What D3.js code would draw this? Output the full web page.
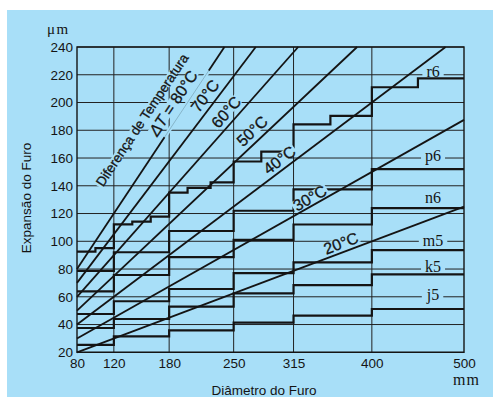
<!DOCTYPE html>
<html><head><meta charset="utf-8">
<script src="https://cdn.jsdelivr.net/npm/d3@7"></script>
<style>
body{margin:0;background:#fff;}
svg{display:block;}
</style></head><body>
<svg id="chart" width="493" height="397"></svg>
<script>
// ---------- data ----------
const diameterTicks = [80, 120, 180, 250, 315, 400, 500];
const expansionTicks = [20, 40, 60, 80, 100, 120, 140, 160, 180, 200, 220, 240];
const rangeEdges = [80, 120, 180, 250, 315, 400, 500];
const j5 = [25.3, 31.5, 35.8, 41.4, 46.4, 51.2];
const k5 = [37.5, 44.0, 52.9, 62.5, 68.4, 76.2];
const m5 = [47.6, 56.8, 65.6, 77.0, 84.8, 93.6];
const n6 = [63.9, 75.7, 88.6, 101.0, 112.1, 123.9];
const p6 = [78.7, 92.1, 107.4, 122.0, 137.4, 152.0];
const r6Edges = [80, 100, 120, 140, 160, 180, 200, 225, 250, 280, 315, 355, 400, 450, 500];
const r6 = [92.5, 95.0, 112.2, 114.1, 117.7, 135.0, 138.5, 142.5, 157.5, 164.6, 184.3, 190.3, 211.0, 217.4];
const classNames = ["j5", "k5", "m5", "n6", "p6", "r6"];
const classLabelValue = [57.7, 78.0, 96.5, 127.5, 157.5, 218.7];
const classGridValue = [60, 80, 100, null, 160, 220];
const tempNames = ["20°C", "30°C", "40°C", "50°C", "60°C", "70°C", "80°C"];
const tempStart = [[80, 20], [80, 30], [80, 40], [80, 50], [80, 60], [80, 70], [80, 80]];
const tempEnd = [[500, 125], [500, 187.5], [480, 240], [384, 240], [320, 240], [274, 240], [240, 240]];
const tempLabelDiameter = [370, 336.8, 305.9, 278, 250.6, 228.4, 194.9];
const titleLabelDiameter = 176.1;
const fadedSpan80 = [[175, 175], [223, 223]];

// ---------- layout ----------
const W = 493, H = 397;
const BG = "#a8dff8", INK = "#141414";
const tempLabelOffset = [9.3, 7.9, 9.8, 10.9, 10.9, 11.0, 11.9];
const titleLabelOffset = 28.3;
const svg = d3.select("#chart");
const x = d3.scaleLinear().domain([80, 500]).range([77, 464]);
const y = d3.scaleLinear().domain([20, 240]).range([352.3, 47]);
const SANS = "'Liberation Sans', Arial, sans-serif";
const SERIF = "'Liberation Serif', 'Times New Roman', serif";

svg.append("rect").attr("x", 7).attr("y", 10).attr("width", W - 7).attr("height", H - 10).attr("fill", BG);

// gridlines
const grid = svg.append("g").attr("stroke", "#222").attr("stroke-width", 1);
grid.selectAll("line.h").data(expansionTicks).join("line")
  .attr("x1", x(80)).attr("x2", x(500)).attr("y1", d => y(d)).attr("y2", d => y(d));
grid.selectAll("line.v").data(diameterTicks.slice(1, -1)).join("line")
  .attr("y1", y(20)).attr("y2", y(240)).attr("x1", d => x(d)).attr("x2", d => x(d));

// frame
svg.append("rect").attr("x", x(80)).attr("y", y(240)).attr("width", x(500) - x(80)).attr("height", y(20) - y(240))
  .attr("fill", "none").attr("stroke", INK).attr("stroke-width", 1.4);

// class labels (knockout only over the gridline they sit on)
const classLabelX = 466.4;
const classLayer = svg.append("g");
const classTexts = classNames.map((nm, i) => svg.append("text")
  .attr("x", x(classLabelX)).attr("y", y(classLabelValue[i]))
  .attr("text-anchor", "middle").attr("font-family", SERIF).attr("font-size", 16).attr("fill", INK).text(nm));
classTexts.forEach((t, i) => {
  if (classGridValue[i] == null) return;
  const b = t.node().getBBox();
  classLayer.append("rect").attr("x", b.x - 4).attr("width", b.width + 8)
    .attr("y", y(classGridValue[i]) - 2).attr("height", 4).attr("fill", BG);
});

// step lines
const stepLine = d3.line().x(d => x(d[0])).y(d => y(d[1])).curve(d3.curveStepAfter);
function stepPoints(edges, vals) {
  const pts = vals.map((v, i) => [edges[i], v]);
  pts.push([edges[edges.length - 1], vals[vals.length - 1]]);
  return pts;
}
const series = [[rangeEdges, j5], [rangeEdges, k5], [rangeEdges, m5], [rangeEdges, n6], [rangeEdges, p6], [r6Edges, r6]];
svg.append("g").selectAll("path").data(series).join("path")
  .attr("d", d => stepLine(stepPoints(d[0], d[1])))
  .attr("fill", "none").attr("stroke", INK).attr("stroke-width", 2.2);

// temperature lines
const plain = d3.line().x(d => x(d[0])).y(d => y(d[1]));
svg.append("g").selectAll("path").data(tempNames.map((n, i) => [tempStart[i], tempEnd[i]])).join("path")
  .attr("d", d => plain(d)).attr("fill", "none").attr("stroke", INK).attr("stroke-width", 1.8);

// faded part of the 80°C line under its label block
svg.append("path").attr("d", plain(fadedSpan80)).attr("stroke", BG).attr("stroke-width", 4);
svg.append("path").attr("d", plain(fadedSpan80)).attr("stroke", "#7ea9bd").attr("stroke-width", 0.8);

// temperature labels, placed along their line and offset up-left
function anchorOn(i, d, off) {
  const a = tempStart[i], b = tempEnd[i];
  const v = a[1] + (d - a[0]) * (b[1] - a[1]) / (b[0] - a[0]);
  const dx = x(b[0]) - x(a[0]), dy = y(b[1]) - y(a[1]);
  const len = Math.hypot(dx, dy), ux = dx / len, uy = dy / len;
  return { cx: x(d) + uy * off, cy: y(v) - ux * off, ang: Math.atan2(dy, dx) * 180 / Math.PI };
}
function rotatedLabel(p, fs, build) {
  const g = svg.append("g").attr("transform", `translate(${p.cx},${p.cy}) rotate(${p.ang})`);
  const r = g.append("rect").attr("fill", BG);
  const t = g.append("text").attr("text-anchor", "middle").attr("dy", (0.358 * fs) + "px")
    .attr("font-family", SANS).attr("font-size", fs).attr("fill", INK)
    .attr("stroke", INK).attr("stroke-width", 0.3);
  build(t);
  const b = t.node().getBBox();
  const hh = 0.34 * fs;
  r.attr("x", b.x - 1.5).attr("width", b.width + 3).attr("y", -hh).attr("height", 2 * hh);
}
tempNames.forEach((nm, i) => {
  const p = anchorOn(i, tempLabelDiameter[i], tempLabelOffset[i]);
  if (i === 6) {
    rotatedLabel(p, 16, t => {
      t.append("tspan").attr("font-style", "italic").text("ΔT");
      t.append("tspan").text(" = 80°C");
    });
  } else {
    rotatedLabel(p, 16, t => t.text(nm));
  }
});
rotatedLabel(anchorOn(6, titleLabelDiameter, titleLabelOffset), 13.5, t => t.text("Diferença de Temperatura"));

// axes
const yAxis = svg.append("g").attr("transform", `translate(${x(80)},0)`)
  .call(d3.axisLeft(y).tickValues(expansionTicks).tickSize(0).tickPadding(4));
const xAxis = svg.append("g").attr("transform", `translate(0,${y(20)})`)
  .call(d3.axisBottom(x).tickValues(diameterTicks).tickSize(0).tickPadding(6));
[yAxis, xAxis].forEach(a => {
  a.select(".domain").remove();
  a.selectAll("text").attr("font-family", SANS).attr("font-size", 13.5).attr("fill", INK);
});

// titles and units
svg.append("text").attr("transform", "translate(30.5,198) rotate(-90)").attr("text-anchor", "middle")
  .attr("font-family", SANS).attr("font-size", 13.5).attr("fill", INK).text("Expansão do Furo");
svg.append("text").attr("x", 264).attr("y", 395).attr("text-anchor", "middle")
  .attr("font-family", SANS).attr("font-size", 13.5).attr("fill", INK).text("Diâmetro do Furo");
svg.append("text").attr("x", 47).attr("y", 33.5).attr("font-family", SERIF).attr("font-size", 15)
  .attr("letter-spacing", 1.5).attr("fill", INK).text("μm");
svg.append("text").attr("x", 466.5).attr("y", 384.5).attr("text-anchor", "middle").attr("font-family", SERIF)
  .attr("font-size", 16).attr("letter-spacing", 1).attr("fill", INK).text("mm");
</script>
</body></html>
